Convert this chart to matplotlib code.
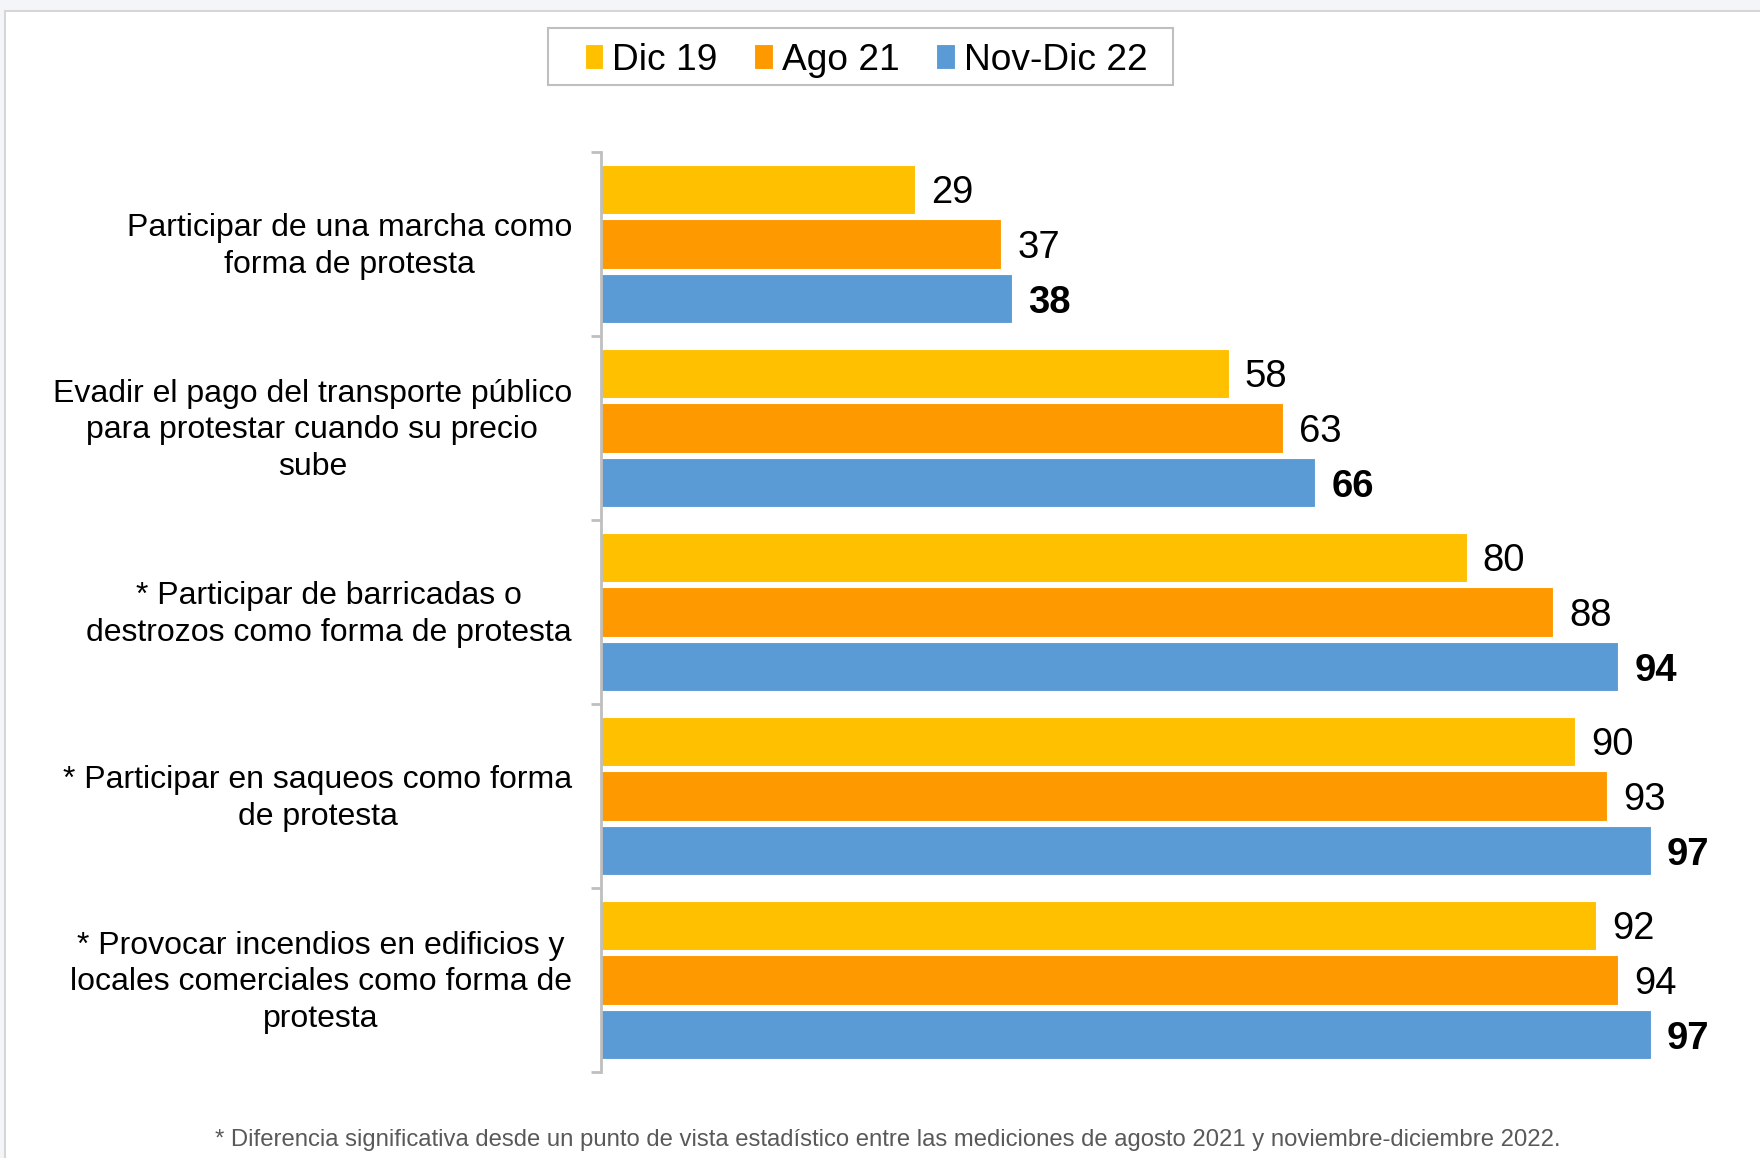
import matplotlib
matplotlib.use('Agg')
import matplotlib.pyplot as plt
import matplotlib.patches as mpatches
from matplotlib.lines import Line2D
import numpy as np

plt.rcParams['font.family'] = ['Liberation Sans', 'DejaVu Sans']

categorias = [
    'Participar de una marcha como\nforma de protesta',
    'Evadir el pago del transporte público\npara protestar cuando su precio\nsube',
    '* Participar de barricadas o\ndestrozos como forma de protesta',
    '* Participar en saqueos como forma\nde protesta',
    '* Provocar incendios en edificios y\nlocales comerciales como forma de\nprotesta',
]
series = ['Dic 19', 'Ago 21', 'Nov-Dic 22']
dic19 = [29, 58, 80, 90, 92]
ago21 = [37, 63, 88, 93, 94]
novdic22 = [38, 66, 94, 97, 97]
colores = ['#FFC000', '#FF9900', '#5B9BD5']
nota = ('* Diferencia significativa desde un punto de vista estadístico entre las '
        'mediciones de agosto 2021 y noviembre-diciembre 2022.')

W, H = 1760, 1158
fig = plt.figure(figsize=(W / 100, H / 100), dpi=100)
fig.patch.set_facecolor('white')

# marco de la captura
fig.patches.append(mpatches.Rectangle((0, 1 - 10 / H), 1, 10 / H, transform=fig.transFigure,
                                      facecolor='#f4f5f9', edgecolor='none', zorder=0))
fig.patches.append(mpatches.Rectangle((0, 0), 5 / W, 1, transform=fig.transFigure,
                                      facecolor='#f4f5f9', edgecolor='none', zorder=0))
fig.add_artist(Line2D([5 / W, 1], [1 - 11 / H, 1 - 11 / H], color='#d6d6d6', lw=1.5))
fig.add_artist(Line2D([5 / W, 5 / W], [0, 1 - 11 / H], color='#d6d6d6', lw=1.5))

ax = fig.add_axes([601 / W, 1 - 1072 / H, 1082 / W, 920 / H])

y = np.arange(len(categorias))
off = 0.298
h = 0.268
datos = [dic19, ago21, novdic22]
handles = []
for k, (vals, col, lab) in enumerate(zip(datos, colores, series)):
    pos = y + (k - 1) * off
    bars = ax.barh(pos, vals, height=h, color=col, edgecolor='white', linewidth=0.8, label=lab)
    handles.append(bars)
    for yy, v in zip(pos, vals):
        ax.text(v + 1.5, yy + 0.02, str(v), va='center', ha='left', fontsize=27.5,
                fontweight='bold' if k == 2 else 'normal', color='black')

ax.set_xlim(0, 100)
ax.set_ylim(len(categorias) - 0.5, -0.5)

for s in ['top', 'right', 'bottom']:
    ax.spines[s].set_visible(False)
ax.spines['left'].set_color('#bfbfbf')
ax.spines['left'].set_linewidth(2)
ax.set_xticks([])
ax.set_yticks(np.arange(-0.5, len(categorias), 1.0))
ax.set_yticklabels([])
ax.tick_params(axis='y', which='major', length=7, width=2, color='#bfbfbf', direction='out')

for i, c in enumerate(categorias):
    ax.text(-29 / 1082, i + 0.012, c, transform=ax.get_yaxis_transform(), ha='right',
            va='center', multialignment='center', fontsize=23.0, linespacing=1.29)

# leyenda
fig.patches.append(mpatches.Rectangle((548 / W, 1 - 85 / H), 625 / W, 57 / H,
                                      transform=fig.transFigure, facecolor='white',
                                      edgecolor='#bfbfbf', linewidth=1.5, zorder=1))
leg = fig.legend(handles, series, loc='center', bbox_to_anchor=(866 / W, 1 - 60 / H), ncol=3,
                 fontsize=26.7, frameon=False, handlelength=0.51, handleheight=0.68,
                 handletextpad=0.24, columnspacing=0.98, borderpad=0.3)

fig.text(888 / W, 1 - 1140 / H, nota, ha='center', va='center', fontsize=17.2, color='#595959')

fig.savefig('out.png', dpi=100)
